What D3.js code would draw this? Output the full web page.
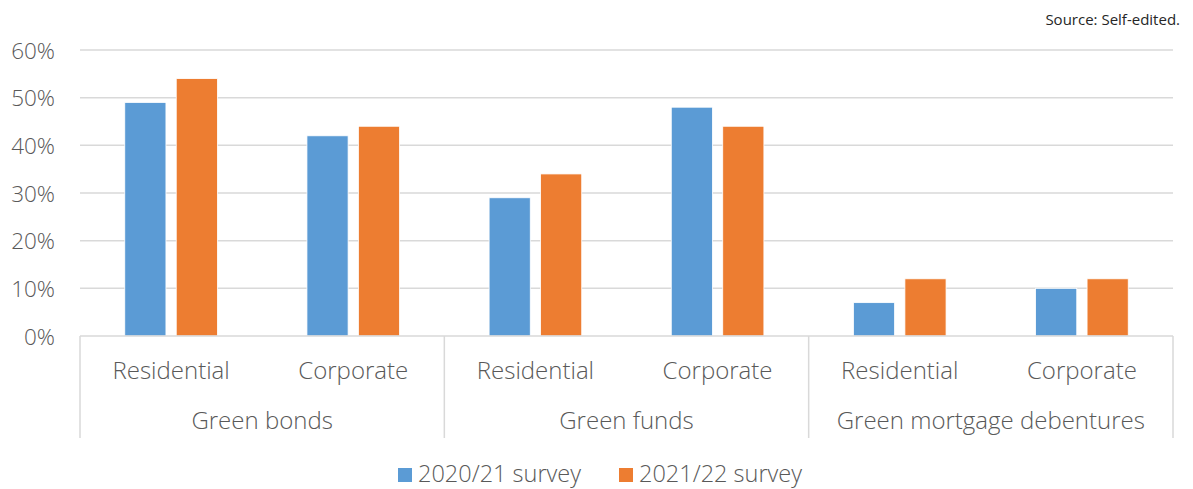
<!DOCTYPE html>
<html><head><meta charset="utf-8">
<script src="https://cdn.jsdelivr.net/npm/d3@7"></script>
<style>
body{margin:0;background:#fff;}
text{font-family:"Open Sans",Lato,sans-serif;font-weight:300;fill:#595959;}
</style></head><body>
<svg id="c" width="1193" height="489"></svg>
<script>
const groups = ["Green bonds","Green funds","Green mortgage debentures"];
const subCategories = ["Residential","Corporate"];
const categories = [
  ["Green bonds","Residential"],["Green bonds","Corporate"],
  ["Green funds","Residential"],["Green funds","Corporate"],
  ["Green mortgage debentures","Residential"],["Green mortgage debentures","Corporate"]
];
const seriesNames = ["2020/21 survey","2021/22 survey"];
const survey2020 = [49,42,29,48,7,10];
const survey2021 = [54,44,34,44,12,12];
const yTicks = [0,10,20,30,40,50,60];
const colors = ["#5b9bd5","#ed7d31"];

const FONT = '"Open Sans",Lato,sans-serif';
const svg = d3.select("#c");
const L=80, R=1173, T=50, B=336;
const y = d3.scaleLinear().domain([0,60]).range([B,T]);
const x = d3.scaleBand().domain(d3.range(categories.length)).range([L,R]).paddingInner(0).paddingOuter(0);
const xs = d3.scaleBand().domain([0,1]).range([0,x.bandwidth()]).paddingInner(0.2).paddingOuter(0.87);

// gridlines
svg.append("g").selectAll("line").data(yTicks.filter(d=>d>0)).join("line")
  .attr("x1",L).attr("x2",R).attr("y1",d=>y(d)).attr("y2",d=>y(d))
  .attr("stroke","#d9d9d9").attr("stroke-width",1.5);

// y labels
const yAxis = d3.axisLeft(y).tickValues(yTicks).tickFormat(d=>d+"%").tickSize(0).tickPadding(0);
const ya = svg.append("g").attr("transform",`translate(55,0)`).call(yAxis);
ya.select(".domain").remove();
ya.selectAll("text").attr("font-size",22.5).attr("dy","0.36em").style("font-family",FONT).style("font-weight",300).style("fill","#595959");

// bars
const series = [survey2020, survey2021];
series.forEach((vals,si)=>{
  svg.append("g").selectAll("rect").data(vals).join("rect")
    .attr("x",(d,i)=>x(i)+xs(si)).attr("width",xs.bandwidth())
    .attr("y",d=>y(d)).attr("height",d=>B-y(d))
    .attr("fill",colors[si]).attr("stroke","#fff").attr("stroke-width",0.8);
});

// category axis
svg.append("line").attr("x1",L).attr("x2",R).attr("y1",B).attr("y2",B).attr("stroke","#d9d9d9").attr("stroke-width",1.5);
const gw = (R-L)/groups.length;
d3.range(groups.length+1).forEach(g=>{
  svg.append("line").attr("x1",L+g*gw).attr("x2",L+g*gw).attr("y1",B).attr("y2",438)
    .attr("stroke","#d9d9d9").attr("stroke-width",1.5);
});
svg.append("g").selectAll("text").data(categories).join("text")
  .attr("x",(d,i)=>x(i)+x.bandwidth()/2).attr("y",379)
  .attr("text-anchor","middle").attr("font-size",24).text(d=>d[1]);
svg.append("g").selectAll("text").data(groups).join("text")
  .attr("x",(d,i)=>L+gw*i+gw/2).attr("y",429)
  .attr("text-anchor","middle").attr("font-size",24).text(d=>d);

// legend
const lg = svg.append("g");
const lx = [398,619];
seriesNames.forEach((n,i)=>{
  lg.append("rect").attr("x",lx[i]).attr("y",468).attr("width",14).attr("height",14).attr("fill",colors[i]);
  lg.append("text").attr("x",lx[i]+20).attr("y",482).attr("font-size",23.5).text(n);
});

// source
svg.append("text").attr("x",1180).attr("y",25).attr("text-anchor","end").attr("font-size",15)
  .style("font-weight",400).style("fill","#262626").text("Source: Self-edited.");
</script></body></html>
